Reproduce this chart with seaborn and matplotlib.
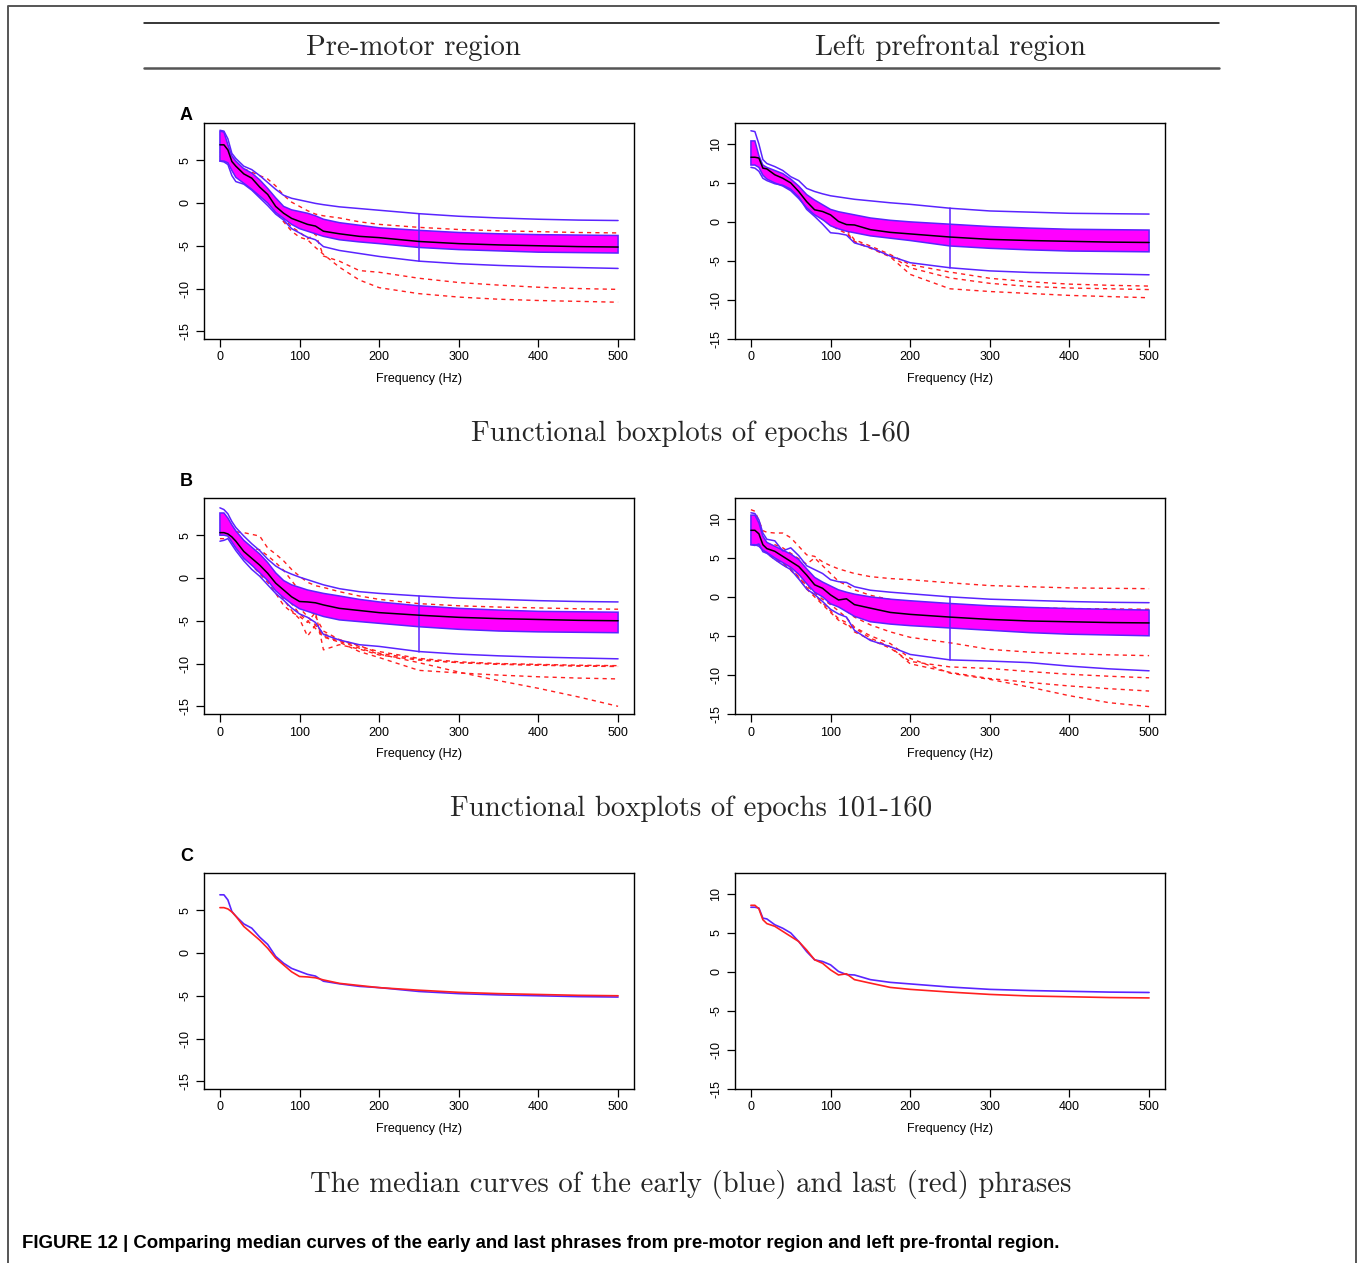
import matplotlib
matplotlib.use("Agg")
import matplotlib.pyplot as plt
import seaborn as sns
from matplotlib.lines import Line2D

# ---------------- data ----------------
freq = [0, 5, 10, 15, 20, 30, 40, 50, 60, 70, 80, 90, 100, 110, 120, 130,
        150, 175, 200, 250, 300, 350, 400, 450, 500]

# Panel A, pre-motor (epochs 1-60)
a_pm_median = [6.8, 6.8, 6.2, 4.85, 4.3, 3.4, 2.9, 1.85, 1.0, -0.4, -1.2, -1.8, -2.15, -2.5, -2.7, -3.3,
               -3.6, -3.9, -4.05, -4.5, -4.75, -4.9, -5.0, -5.1, -5.15]
a_pm_band_hi = [8.4, 8.3, 6.8, 5.5, 4.9, 4.0, 3.5, 2.7, 1.7, 0.6, -0.4, -0.8, -1.0, -1.2, -1.5, -1.9,
                -2.3, -2.6, -2.9, -3.2, -3.45, -3.6, -3.7, -3.75, -3.8]
a_pm_band_lo = [4.9, 4.9, 4.7, 3.8, 3.0, 2.3, 1.6, 0.8, 0.0, -1.1, -1.8, -2.5, -3.0, -3.3, -3.6, -3.9,
                -4.3, -4.55, -4.75, -5.2, -5.45, -5.6, -5.75, -5.8, -5.85]
a_pm_env_hi = [8.5, 8.4, 7.5, 5.8, 5.2, 4.3, 3.9, 3.2, 2.4, 1.6, 0.9, 0.55, 0.35, 0.15, -0.05, -0.2,
               -0.45, -0.65, -0.85, -1.25, -1.55, -1.75, -1.9, -2.0, -2.05]
a_pm_env_lo = [4.9, 4.8, 4.5, 3.2, 2.5, 2.2, 1.5, 0.6, -0.3, -1.3, -2.0, -3.0, -3.5, -4.0, -4.3, -5.1,
               -5.55, -5.9, -6.25, -6.8, -7.1, -7.3, -7.45, -7.55, -7.65]
a_pm_out1 = [6.5, 6.3, 5.8, 5.0, 4.5, 4.0, 3.6, 3.2, 2.8, 2.0, 0.9, 0.1, -0.4, -0.9, -1.3, -1.5,
             -1.75, -2.2, -2.5, -2.85, -3.1, -3.25, -3.35, -3.45, -3.5]
a_pm_out2 = [6.0, 5.8, 5.2, 4.5, 3.5, 2.6, 2.0, 1.2, 0.5, -0.8, -1.8, -2.8, -3.4, -4.2, -3.6, -6.2,
             -6.8, -7.9, -8.1, -8.8, -9.3, -9.6, -9.85, -10.0, -10.1]
a_pm_out3 = [5.5, 5.3, 4.8, 4.0, 3.2, 2.5, 1.8, 0.9, 0.1, -1.0, -2.2, -3.3, -4.0, -4.3, -5.2, -6.0,
             -7.5, -9.0, -9.9, -10.6, -11.0, -11.25, -11.4, -11.5, -11.6]

# Panel A, left prefrontal (epochs 1-60)
a_pf_median = [8.3, 8.3, 8.2, 6.9, 6.8, 6.05, 5.6, 5.0, 3.9, 2.6, 1.55, 1.33, 0.9, 0.05, -0.35, -0.4,
               -1.0, -1.35, -1.55, -1.95, -2.25, -2.4, -2.5, -2.6, -2.65]
a_pf_band_hi = [10.4, 10.4, 8.5, 7.3, 7.0, 6.6, 6.2, 5.5, 4.6, 3.5, 2.8, 2.2, 1.6, 1.3, 1.1, 0.9,
                0.5, 0.2, 0.0, -0.3, -0.6, -0.8, -0.95, -1.0, -1.05]
a_pf_band_lo = [7.3, 7.3, 7.0, 6.0, 5.5, 5.0, 4.6, 4.0, 3.0, 1.8, 0.9, 0.3, -0.5, -0.9, -1.2, -1.4,
                -1.8, -2.1, -2.4, -3.1, -3.4, -3.6, -3.75, -3.8, -3.85]
a_pf_env_hi = [11.7, 11.6, 10.0, 8.0, 7.5, 7.1, 6.6, 5.8, 5.3, 4.3, 3.9, 3.6, 3.35, 3.2, 3.05, 2.9,
               2.7, 2.45, 2.25, 1.75, 1.4, 1.25, 1.1, 1.05, 1.0]
a_pf_env_lo = [7.0, 6.9, 6.5, 5.6, 5.3, 4.9, 4.7, 4.2, 3.2, 1.6, 0.7, -0.3, -1.4, -1.5, -1.7, -2.7,
               -3.3, -4.4, -5.25, -5.9, -6.3, -6.5, -6.6, -6.7, -6.8]
a_pf_out1 = [8.5, 8.5, 8.0, 7.0, 6.5, 6.0, 5.5, 5.0, 4.0, 2.5, 1.5, 0.8, 0.0, -0.5, -1.0, -2.3,
             -3.1, -4.2, -5.5, -6.45, -7.25, -7.7, -8.0, -8.15, -8.25]
a_pf_out2 = [8.0, 8.0, 7.6, 6.6, 6.2, 5.7, 5.2, 4.6, 3.6, 2.2, 1.2, 0.5, -0.2, -0.8, -1.3, -2.5,
             -3.3, -4.4, -5.9, -7.2, -7.9, -8.3, -8.5, -8.6, -8.7]
a_pf_out3 = [7.8, 7.8, 7.4, 6.4, 6.0, 5.5, 5.0, 4.4, 3.4, 2.0, 1.0, 0.3, -0.4, -1.0, -1.5, -2.6,
             -3.4, -4.5, -6.75, -8.6, -8.95, -9.2, -9.45, -9.6, -9.75]

# Panel B, pre-motor (epochs 101-160)
b_pm_median = [5.3, 5.3, 5.15, 4.8, 4.3, 3.1, 2.3, 1.5, 0.55, -0.6, -1.4, -2.2, -2.75, -2.8, -2.9, -3.15,
               -3.55, -3.8, -4.05, -4.35, -4.6, -4.75, -4.85, -4.95, -5.0]
b_pm_band_hi = [7.6, 7.6, 7.0, 6.2, 5.5, 4.4, 3.6, 2.8, 1.8, 0.6, -0.3, -0.8, -1.1, -1.4, -1.6, -1.8,
                -2.1, -2.5, -2.8, -3.25, -3.55, -3.75, -3.9, -3.95, -4.0]
b_pm_band_lo = [5.0, 5.0, 4.9, 4.2, 3.5, 2.3, 1.5, 0.6, -0.3, -1.5, -2.3, -3.0, -3.6, -3.9, -4.2, -4.5,
                -4.9, -5.1, -5.3, -5.7, -6.0, -6.2, -6.3, -6.35, -6.4]
b_pm_env_hi = [8.2, 8.0, 7.5, 6.6, 5.9, 4.9, 4.0, 3.2, 2.2, 1.4, 0.85, 0.45, 0.1, -0.2, -0.5, -0.8,
               -1.25, -1.6, -1.8, -2.1, -2.35, -2.5, -2.65, -2.75, -2.8]
b_pm_env_lo = [4.3, 4.4, 4.6, 3.9, 3.2, 2.0, 1.0, 0.2, -0.8, -1.8, -2.6, -3.5, -4.2, -4.6, -5.2, -6.6,
               -7.25, -7.8, -8.0, -8.6, -8.9, -9.1, -9.25, -9.35, -9.45]
b_pm_out1 = [5.6, 5.6, 5.5, 5.4, 5.4, 5.3, 5.1, 4.9, 3.5, 2.8, 2.0, 1.0, 0.2, -0.5, -0.9, -1.1,
             -1.6, -2.1, -2.5, -3.0, -3.25, -3.4, -3.5, -3.6, -3.65]
b_pm_out2 = [5.5, 5.5, 5.4, 5.2, 4.8, 4.0, 3.5, 3.3, 2.6, 1.8, 0.9, -0.3, -1.5, -3.5, -4.5, -6.2,
             -7.2, -7.9, -8.8, -9.5, -9.9, -10.05, -10.15, -10.25, -10.3]
b_pm_out3 = [5.0, 5.2, 5.3, 5.1, 4.5, 3.0, 2.0, 1.0, 0.0, -1.2, -2.5, -3.8, -4.8, -6.8, -5.5, -6.5,
             -7.3, -8.0, -8.6, -9.4, -9.8, -10.0, -10.1, -10.2, -10.25]
b_pm_out4 = [4.6, 4.6, 4.8, 4.5, 4.0, 2.8, 1.5, 0.5, -0.5, -1.8, -3.2, -4.0, -4.5, -5.2, -4.0, -8.4,
             -7.8, -8.3, -9.0, -9.6, -9.9, -10.1, -10.2, -10.3, -10.35]
b_pm_out5 = [5.2, 5.2, 5.0, 4.6, 4.1, 3.2, 2.2, 1.3, 0.3, -0.9, -2.0, -3.0, -4.2, -5.0, -5.9, -6.9,
             -7.5, -8.6, -9.3, -10.8, -11.1, -11.35, -11.55, -11.7, -11.8]
b_pm_out6 = [5.4, 5.4, 5.2, 4.7, 4.2, 3.3, 2.5, 1.7, 0.8, -0.4, -1.5, -2.5, -3.5, -4.5, -5.5, -6.8,
             -7.4, -8.2, -8.9, -9.9, -11.0, -12.0, -12.9, -13.9, -15.0]

# Panel B, left prefrontal (epochs 101-160)
b_pf_median = [8.55, 8.55, 8.1, 6.7, 6.2, 5.85, 5.2, 4.55, 3.9, 2.8, 1.55, 1.1, 0.25, -0.4, -0.25, -1.0,
               -1.45, -2.0, -2.25, -2.6, -2.9, -3.1, -3.2, -3.3, -3.35]
b_pf_band_hi = [10.5, 10.5, 9.5, 7.8, 7.0, 6.5, 6.0, 5.5, 4.8, 3.6, 2.5, 1.9, 1.4, 0.9, 0.6, 0.35,
                0.0, -0.3, -0.5, -0.85, -1.15, -1.35, -1.5, -1.6, -1.7]
b_pf_band_lo = [6.7, 6.7, 6.5, 6.0, 5.7, 5.0, 4.4, 3.8, 2.9, 1.7, 0.6, 0.0, -0.9, -1.3, -1.9, -2.5,
                -3.2, -3.5, -3.7, -4.0, -4.3, -4.6, -4.8, -4.9, -5.0]
b_pf_env_hi = [10.8, 10.7, 9.9, 8.2, 7.4, 7.2, 5.9, 6.3, 5.3, 4.0, 3.5, 3.0, 2.2, 1.95, 1.85, 1.3,
               0.85, 0.6, 0.4, 0.0, -0.3, -0.45, -0.6, -0.7, -0.75]
b_pf_env_lo = [6.7, 6.6, 6.8, 5.8, 5.6, 4.8, 4.1, 3.5, 2.3, 1.0, 0.3, -0.6, -1.6, -2.2, -2.6, -4.3,
               -5.6, -6.4, -7.4, -8.1, -8.25, -8.45, -8.9, -9.25, -9.5]
b_pf_out1 = [11.2, 11.0, 9.8, 8.5, 8.3, 8.2, 8.2, 7.6, 6.5, 5.4, 5.2, 4.5, 4.0, 3.6, 3.3, 3.0,
             2.6, 2.35, 2.2, 1.8, 1.45, 1.3, 1.15, 1.1, 1.05]
b_pf_out2 = [9.0, 9.0, 8.0, 7.0, 6.8, 6.7, 6.3, 5.6, 4.9, 4.2, 5.0, 4.0, 3.0, 2.0, 1.5, 0.9,
             0.2, -0.35, -0.6, -1.0, -1.25, -1.4, -1.5, -1.55, -1.6]
b_pf_out3 = [8.0, 8.0, 7.5, 6.5, 6.0, 5.5, 5.0, 4.3, 3.5, 2.2, 1.0, 0.3, -0.5, -1.2, -1.8, -2.6,
             -3.6, -4.5, -5.2, -5.9, -6.75, -7.1, -7.3, -7.45, -7.55]
b_pf_out4 = [7.5, 7.5, 7.2, 6.2, 5.8, 5.0, 4.4, 3.6, 2.6, 1.2, 0.2, -0.8, -1.8, -2.8, -3.3, -4.5,
             -5.5, -6.6, -8.3, -9.0, -9.2, -9.6, -9.95, -10.2, -10.4]
b_pf_out5 = [7.0, 7.0, 6.9, 6.0, 5.6, 4.8, 4.2, 3.4, 2.4, 1.0, 0.0, -1.0, -2.0, -3.0, -3.6, -4.0,
             -5.3, -6.4, -8.6, -9.7, -10.5, -11.0, -11.45, -11.8, -12.1]
b_pf_out6 = [7.2, 7.2, 7.0, 6.1, 5.7, 5.0, 4.3, 3.5, 2.5, 1.5, 0.5, -0.3, -1.0, -1.8, -2.7, -3.9,
             -5.0, -6.0, -7.9, -9.8, -10.6, -11.6, -12.7, -13.6, -14.1]

xticks = [0, 100, 200, 300, 400, 500]
yticks_pm = [-15, -10, -5, 0, 5]
yticks_pf = [-15, -10, -5, 0, 5, 10]
whisker_at = 250

col_titles = ["Pre-motor region", "Left prefrontal region"]
row_titles = ["Functional boxplots of epochs 1-60",
              "Functional boxplots of epochs 101-160",
              "The median curves of the early (blue) and last (red) phrases"]
panel_letters = ["A", "B", "C"]
caption = ("FIGURE 12 | Comparing median curves of the early and last phrases "
           "from pre-motor region and left pre-frontal region.")

# ---------------- style ----------------
sns.set_theme(style="ticks")
plt.rcParams["font.family"] = ["Liberation Sans", "DejaVu Sans"]
plt.rcParams["axes.unicode_minus"] = False

BLUE = "#5a24ff"
MAGENTA = "#ff00ff"
RED = "#ff2020"

W, H = 1360, 1263
fig = plt.figure(figsize=(W / 100, H / 100), dpi=100)
fig.patch.set_facecolor("white")


def fx(px):
    return px / W


def fy(py):
    return 1 - py / H


cols = [(204, 634), (735, 1165)]
rows = [(123, 339), (498, 714), (873, 1089)]


def make_ax(r, c):
    l, rr = cols[c]
    t, b = rows[r]
    ax = fig.add_axes([fx(l), fy(b), (rr - l) / W, (b - t) / H])
    ax.set_facecolor("white")
    for s in ax.spines.values():
        s.set_color("black")
        s.set_linewidth(1.0)
        s.set_visible(True)
    ax.set_xlim(-20, 520)
    if c == 0:
        ax.set_ylim(-15.9, 9.35)
        ax.set_yticks(yticks_pm)
        ax.set_yticklabels([str(v) for v in yticks_pm], rotation=90, va="center")
    else:
        ax.set_ylim(-15.05, 12.7)
        ax.set_yticks(yticks_pf)
        ax.set_yticklabels([str(v) for v in yticks_pf], rotation=90, va="center")
    ax.set_xticks(xticks)
    ax.set_xticklabels([str(v) for v in xticks])
    ax.tick_params(axis="both", direction="out", length=6, width=0.9, color="black",
                   labelsize=9, pad=3, labelcolor="black", bottom=True, left=True)
    ax.set_xlabel("Frequency (Hz)", fontsize=9, labelpad=7, color="black")
    ax.set_ylabel("")
    return ax


def line(ax, y, color, lw=1.1, ls="-", z=3):
    sns.lineplot(x=freq, y=y, ax=ax, color=color, linewidth=lw, linestyle=ls,
                 estimator=None, sort=False, legend=False, zorder=z)


def fbplot(ax, median, band_lo, band_hi, env_lo, env_hi, outliers):
    for o in outliers:
        line(ax, o, RED, lw=1.0, ls=(0, (3, 3)), z=2)
    xs = freq + freq[::-1]
    ys = band_hi + band_lo[::-1]
    ax.fill(xs, ys, facecolor=MAGENTA, edgecolor=BLUE, linewidth=1.1, zorder=3)
    line(ax, env_hi, BLUE, z=4)
    line(ax, env_lo, BLUE, z=4)
    i = freq.index(whisker_at)
    ax.plot([whisker_at, whisker_at], [env_lo[i], env_hi[i]], color=BLUE, lw=1.1, zorder=4)
    line(ax, median, "black", lw=1.1, z=5)


# Row A
ax = make_ax(0, 0)
fbplot(ax, a_pm_median, a_pm_band_lo, a_pm_band_hi, a_pm_env_lo, a_pm_env_hi,
       [a_pm_out1, a_pm_out2, a_pm_out3])
ax = make_ax(0, 1)
fbplot(ax, a_pf_median, a_pf_band_lo, a_pf_band_hi, a_pf_env_lo, a_pf_env_hi,
       [a_pf_out1, a_pf_out2, a_pf_out3])

# Row B
ax = make_ax(1, 0)
fbplot(ax, b_pm_median, b_pm_band_lo, b_pm_band_hi, b_pm_env_lo, b_pm_env_hi,
       [b_pm_out1, b_pm_out2, b_pm_out3, b_pm_out4, b_pm_out5, b_pm_out6])
ax = make_ax(1, 1)
fbplot(ax, b_pf_median, b_pf_band_lo, b_pf_band_hi, b_pf_env_lo, b_pf_env_hi,
       [b_pf_out1, b_pf_out2, b_pf_out3, b_pf_out4, b_pf_out5, b_pf_out6])

# Row C: median curves, early (blue) vs last (red)
ax = make_ax(2, 0)
line(ax, a_pm_median, BLUE, lw=1.2)
line(ax, b_pm_median, RED, lw=1.2, z=4)
ax = make_ax(2, 1)
line(ax, a_pf_median, BLUE, lw=1.2)
line(ax, b_pf_median, RED, lw=1.2, z=4)

# ---------------- figure text ----------------
serif = ["cmr10", "DejaVu Serif"]
fig.text(fx(413), fy(48), col_titles[0], family=serif, fontsize=20.8, ha="center", va="center")
fig.text(fx(950), fy(48), col_titles[1], family=serif, fontsize=20.8, ha="center", va="center")
row_text_y = [434, 809, 1184]
for t, yy in zip(row_titles, row_text_y):
    fig.text(fx(691), fy(yy), t, family=serif, fontsize=20.7, ha="center", va="center")
letter_y = [120, 486, 861]
for L, yy in zip(panel_letters, letter_y):
    fig.text(fx(180), fy(yy), L, fontsize=13, fontweight="bold", ha="left", va="baseline",
             color="black")
fig.text(fx(22), fy(1244), caption, fontsize=13.4, fontweight="bold", ha="left", va="center",
         color="black")

# rules and frame
fig.add_artist(Line2D([fx(144), fx(1219)], [fy(23), fy(23)], transform=fig.transFigure,
                      color="black", lw=1.1))
fig.add_artist(Line2D([fx(144), fx(1219)], [fy(68), fy(68)], transform=fig.transFigure,
                      color="#555555", lw=1.8))
fig.add_artist(Line2D([fx(8), fx(8), fx(1356), fx(1356)], [0, fy(6), fy(6), 0],
                  transform=fig.transFigure, color="#555555", lw=1.4))

fig.savefig("out.png", dpi=100, facecolor="white")
